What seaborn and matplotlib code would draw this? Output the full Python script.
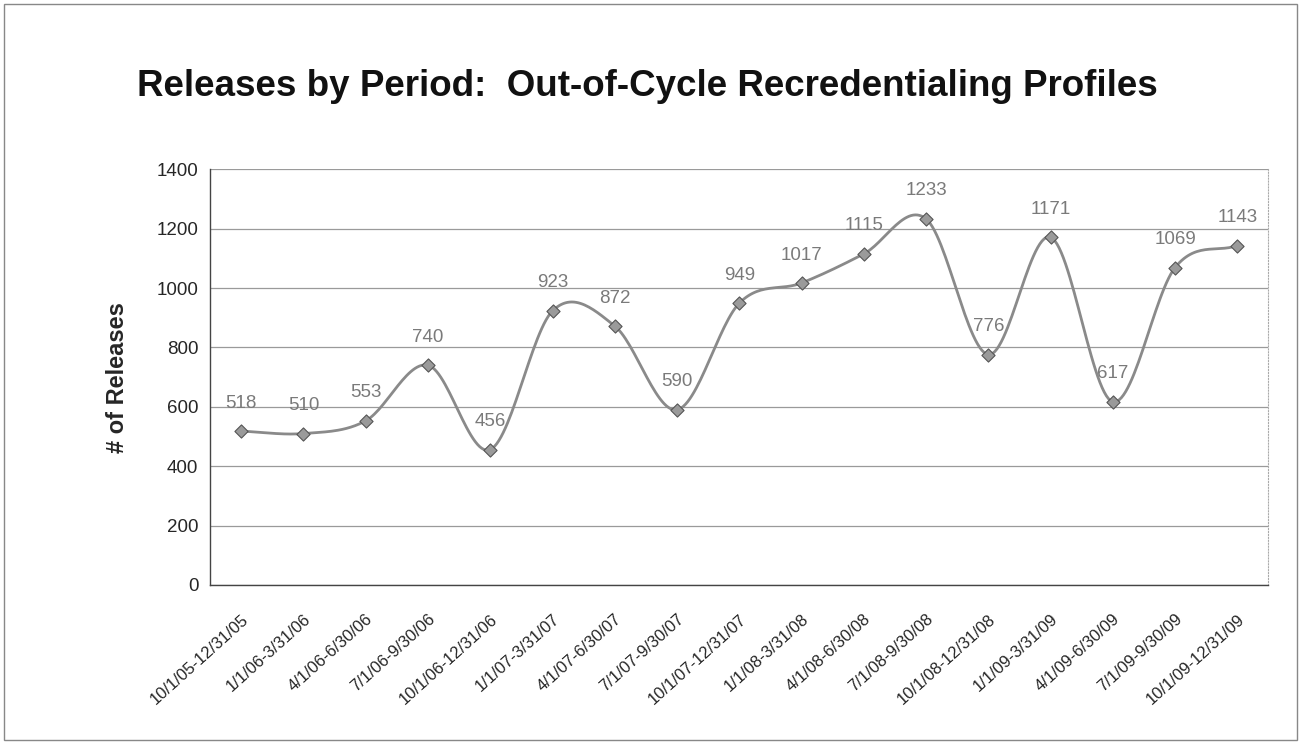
import numpy as np
import pandas as pd
import matplotlib
matplotlib.use("Agg")
import matplotlib.pyplot as plt
import seaborn as sns

# ---- Data ----
periods = [
    "10/1/05-12/31/05", "1/1/06-3/31/06", "4/1/06-6/30/06", "7/1/06-9/30/06",
    "10/1/06-12/31/06", "1/1/07-3/31/07", "4/1/07-6/30/07", "7/1/07-9/30/07",
    "10/1/07-12/31/07", "1/1/08-3/31/08", "4/1/08-6/30/08", "7/1/08-9/30/08",
    "10/1/08-12/31/08", "1/1/09-3/31/09", "4/1/09-6/30/09", "7/1/09-9/30/09",
    "10/1/09-12/31/09",
]
releases = [518, 510, 553, 740, 456, 923, 872, 590, 949, 1017, 1115, 1233,
            776, 1171, 617, 1069, 1143]
y_ticks = [0, 200, 400, 600, 800, 1000, 1200, 1400]

df = pd.DataFrame({"pos": np.arange(len(periods)), "releases": releases})


# ---- Smoothed line (Catmull-Rom, like Excel's smoothed line) ----
def smooth(x, y, n=30):
    x = np.asarray(x, float)
    y = np.asarray(y, float)
    px = np.concatenate([[2 * x[0] - x[1]], x, [2 * x[-1] - x[-2]]])
    py = np.concatenate([[2 * y[0] - y[1]], y, [2 * y[-1] - y[-2]]])
    xs, ys = [], []
    t = np.linspace(0, 1, n)
    for i in range(1, len(px) - 2):
        for p, out in ((px, xs), (py, ys)):
            p0, p1, p2, p3 = p[i - 1], p[i], p[i + 1], p[i + 2]
            out.append(0.5 * ((2 * p1) + (-p0 + p2) * t
                              + (2 * p0 - 5 * p1 + 4 * p2 - p3) * t ** 2
                              + (-p0 + 3 * p1 - 3 * p2 + p3) * t ** 3))
    return np.concatenate(xs), np.concatenate(ys)


sx, sy = smooth(df["pos"], df["releases"])
curve = pd.DataFrame({"x": sx, "y": sy})

# ---- Plot ----
sns.set_style("white")
plt.rcParams["font.family"] = ["Liberation Sans", "DejaVu Sans"]

fig = plt.figure(figsize=(13.05, 7.49), dpi=100)
ax = fig.add_axes([0.161, 0.219, 0.811, 0.555])

line_col = "#8a8a8a"
sns.lineplot(data=curve, x="x", y="y", ax=ax, color=line_col, linewidth=2.0,
             sort=False, estimator=None)
sns.scatterplot(data=df, x="pos", y="releases", ax=ax, marker="D", s=45,
                color="#9a9a9a", edgecolor="#555555", linewidth=0.8, zorder=3)

for x, v in zip(df["pos"], df["releases"]):
    ax.annotate(str(v), (x, v), xytext=(0, 14), textcoords="offset points",
                ha="center", va="bottom", fontsize=13.5, color="#7a7a7a")

ax.set_ylim(0, 1400)
ax.set_yticks(y_ticks)
ax.set_xlim(-0.5, len(periods) - 0.5)
ax.set_xticks(df["pos"])
ax.set_xticklabels(periods, rotation=42, ha="right", rotation_mode="anchor",
                   fontsize=12)
ax.set_xticks(np.arange(-0.5, len(periods)), minor=True)
ax.tick_params(axis="x", which="major", length=0, pad=19)
ax.tick_params(axis="x", which="minor", length=5, direction="out", color="#444444")
ax.tick_params(axis="y", length=5, direction="out", labelsize=13.5, color="#444444")

ax.grid(axis="y", color="#9a9a9a", linewidth=0.9)
ax.set_axisbelow(True)
for side in ("left", "bottom"):
    ax.spines[side].set_color("#444444")
    ax.spines[side].set_linewidth(1.0)
ax.spines["top"].set_visible(False)
ax.spines["right"].set_color("#aaaaaa")
ax.spines["right"].set_linestyle(":")

ax.set_xlabel("")
ax.set_ylabel("# of Releases", fontsize=17, fontweight="bold", labelpad=20)

fig.text(0.496, 0.884, "Releases by Period:  Out-of-Cycle Recredentialing Profiles",
         ha="center", va="center", fontsize=26.5, fontweight="bold", color="#111111")

# outer chart border
fig.patches.append(plt.Rectangle((0.003, 0.012), 0.991, 0.982, transform=fig.transFigure,
                                 fill=False, edgecolor="#888888", linewidth=1.0))

fig.savefig("out.png", dpi=100)
